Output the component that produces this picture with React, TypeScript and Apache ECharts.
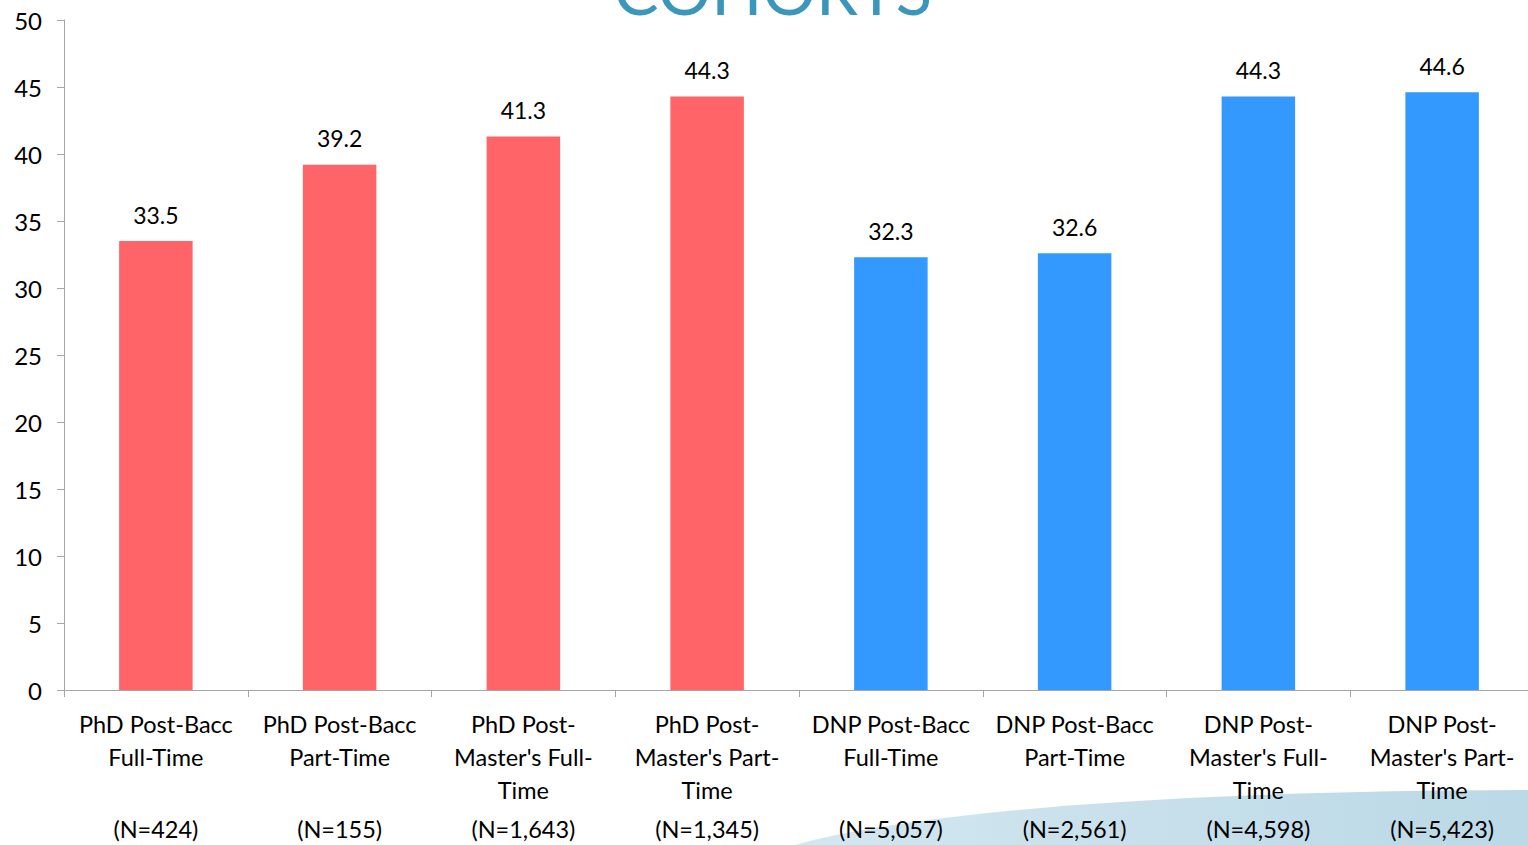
import React, { useEffect, useRef } from "react";
import * as echarts from "echarts";

const programs = [
  "PhD Post-Bacc Full-Time",
  "PhD Post-Bacc Part-Time",
  "PhD Post-Master's Full-Time",
  "PhD Post-Master's Part-Time",
  "DNP Post-Bacc Full-Time",
  "DNP Post-Bacc Part-Time",
  "DNP Post-Master's Full-Time",
  "DNP Post-Master's Part-Time",
];
const labelLines = [
  ["PhD Post-Bacc", "Full-Time", ""],
  ["PhD Post-Bacc", "Part-Time", ""],
  ["PhD Post-", "Master's Full-", "Time"],
  ["PhD Post-", "Master's Part-", "Time"],
  ["DNP Post-Bacc", "Full-Time", ""],
  ["DNP Post-Bacc", "Part-Time", ""],
  ["DNP Post-", "Master's Full-", "Time"],
  ["DNP Post-", "Master's Part-", "Time"],
];
const cohortN = ["424", "155", "1,643", "1,345", "5,057", "2,561", "4,598", "5,423"];
const values = [33.5, 39.2, 41.3, 44.3, 32.3, 32.6, 44.3, 44.6];
const barColors = ["#FF6469", "#FF6469", "#FF6469", "#FF6469", "#3399FF", "#3399FF", "#3399FF", "#3399FF"];
const yTicks = { min: 0, max: 50, interval: 5 };
const titleText = "COHORTS";

const FONT = "Lato, 'Open Sans', sans-serif";

export default function App() {
  const ref = useRef<HTMLDivElement>(null);
  useEffect(() => {
    if (!ref.current) return;
    echarts.graphic.registerShape(
      "swoosh",
      echarts.graphic.extendPath(
        "M 795 845 C 900 815, 1150 790, 1545 790 L 1545 845 Z",
        {}
      )
    );
    const chart = echarts.init(ref.current, null, { renderer: "svg" });
    chart.setOption({
      animation: false,
      backgroundColor: "#ffffff",
      graphic: [
        {
          type: "swoosh",
          z: -10,
          silent: true,
          style: {
            fill: new echarts.graphic.LinearGradient(0, 0, 1, 0, [
              { offset: 0, color: "#D3E7F0" },
              { offset: 1, color: "#BAD8E6" },
            ]),
          },
        },
        {
          type: "text",
          x: 773,
          y: 22,
          silent: true,
          style: {
            text: titleText,
            fill: "#3A96BA",
            font: "normal 67px " + FONT,
            textAlign: "center",
            textVerticalAlign: "bottom",
          },
        },
      ],
      grid: { left: 64, top: 20, bottom: 155, right: 11 },
      xAxis: {
        type: "category",
        data: programs,
        axisLine: { lineStyle: { color: "#A6A6A6", width: 1 } },
        axisTick: { show: true, length: 7, lineStyle: { color: "#A6A6A6" } },
        axisLabel: {
          interval: 0,
          margin: 17,
          formatter: (_v: string, i: number) => {
            const l = labelLines[i];
            return `{a|${l[0]}}\n{a|${l[1]}}\n{a|${l[2] || " "}}\n{n|(N=${cohortN[i]})}`;
          },
          rich: {
            a: { fontSize: 23.5, lineHeight: 33, fontFamily: FONT, color: "#000" },
            n: { fontSize: 23.5, lineHeight: 45, fontFamily: FONT, color: "#000" },
          },
        },
      },
      yAxis: {
        type: "value",
        min: yTicks.min,
        max: yTicks.max,
        interval: yTicks.interval,
        splitLine: { show: false },
        axisLine: { show: true, lineStyle: { color: "#A6A6A6", width: 1 } },
        axisTick: { show: true, length: 7, lineStyle: { color: "#A6A6A6" } },
        axisLabel: { fontSize: 24, fontFamily: FONT, color: "#000", margin: 22 },
      },
      series: [
        {
          type: "bar",
          barWidth: "40%",
          data: values.map((v, i) => ({ value: v, itemStyle: { color: barColors[i] } })),
          label: {
            show: true,
            position: "top",
            distance: 15,
            fontSize: 23,
            fontFamily: FONT,
            color: "#000",
          },
        },
      ],
    });
    return () => chart.dispose();
  }, []);
  return (
    <div style={{ position: "absolute", left: 0, top: 0, width: 1528, height: 845, overflow: "hidden" }}>
      <div ref={ref} style={{ width: 1545, height: 845 }} />
    </div>
  );
}
